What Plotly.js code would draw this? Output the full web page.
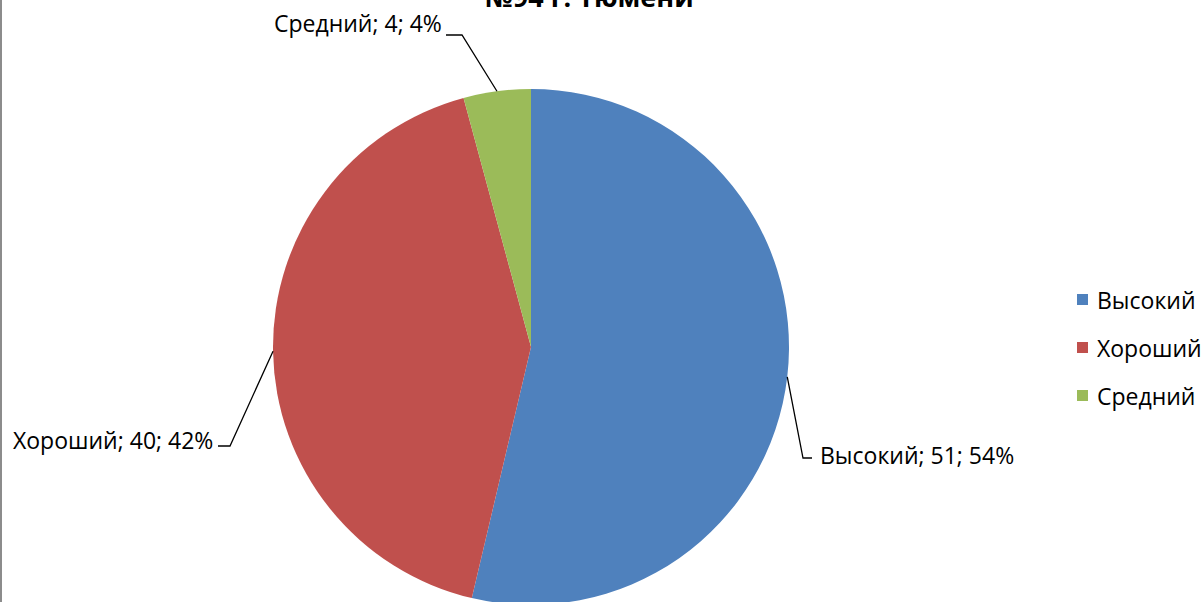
<!DOCTYPE html>
<html>
<head>
<meta charset="utf-8">
<script src="https://cdn.plot.ly/plotly-3.0.1.min.js"></script>
<style>
html,body{margin:0;padding:0;overflow:hidden;background:#fff;}
#chart{width:1203px;height:620px;}
</style>
</head>
<body>
<div id="chart"></div>
<script>
// ---- data ----
const categories = ["Высокий", "Хороший", "Средний"];
const values = [51, 40, 4];
const percents = ["54%", "42%", "4%"];
const colors = ["#4F81BD", "#C0504D", "#9BBB59"];
const titleText = "№94 г. Тюмени";

// ---- layout geometry (pixels) ----
const W = 1203, H = 620;
const cx = 531, cy = 347, R = 258;
const FONT = "'Open Sans', sans-serif";
const FS = 23;
const px = x => x / W;
const py = y => 1 - y / H;

const total = values.reduce((a, b) => a + b, 0);
const anchors = [];
let cum = 0;
values.forEach(v => {
  const mid = (cum + v / 2) / total * 2 * Math.PI;
  anchors.push([cx + R * Math.sin(mid), cy - R * Math.cos(mid)]);
  cum += v;
});

const labelPos = [
  {elbow: [803, 458], end: [812, 458], tx: 818, ty: 455, xanchor: "left"},
  {elbow: [230, 446], end: [218, 446], tx: 215, ty: 440, xanchor: "right"},
  {elbow: [462, 35], end: [446, 35], tx: 444, ty: 23, xanchor: "right"}
];

const shapes = [];
const annotations = [];

shapes.push({type: "line", xref: "paper", yref: "paper", x0: px(1), x1: px(1), y0: 0, y1: 1,
  line: {color: "#8c8c8c", width: 2}});

categories.forEach((c, i) => {
  const a = anchors[i], p = labelPos[i];
  shapes.push({
    type: "path", xref: "paper", yref: "paper",
    path: `M ${px(a[0])} ${py(a[1])} L ${px(p.elbow[0])} ${py(p.elbow[1])} L ${px(p.end[0])} ${py(p.end[1])}`,
    line: {color: "#000", width: 1.3}
  });
  annotations.push({
    xref: "paper", yref: "paper", x: px(p.tx), y: py(p.ty),
    xanchor: p.xanchor, yanchor: "middle", showarrow: false,
    text: `${c}; ${values[i]}; ${percents[i]}`,
    font: {family: FONT, size: FS, color: "#000"}
  });
});

const legendY = [300, 348, 396];
categories.forEach((c, i) => {
  shapes.push({type: "rect", xref: "paper", yref: "paper",
    x0: px(1077), x1: px(1088), y0: py(legendY[i] + 5), y1: py(legendY[i] - 6),
    fillcolor: colors[i], line: {width: 0}});
  annotations.push({xref: "paper", yref: "paper", x: px(1095), y: py(legendY[i]),
    xanchor: "left", yanchor: "middle", showarrow: false, text: c,
    font: {family: FONT, size: FS, color: "#000"}});
});

annotations.push({xref: "paper", yref: "paper", x: px(589), y: py(-3),
  xanchor: "center", yanchor: "middle", showarrow: false,
  text: "<b>" + titleText + "</b>", font: {family: FONT, size: 27, color: "#000"}});

const trace = {
  type: "pie",
  labels: categories,
  values: values,
  marker: {colors: colors, line: {width: 0}},
  sort: false,
  direction: "clockwise",
  rotation: 0,
  textinfo: "none",
  hoverinfo: "label+value+percent",
  domain: {x: [px(cx - R), px(cx + R)], y: [py(cy + R), py(cy - R)]},
  showlegend: false
};

Plotly.newPlot("chart", [trace], {
  width: W, height: H,
  margin: {l: 0, r: 0, t: 0, b: 0},
  paper_bgcolor: "#fff",
  showlegend: false,
  shapes: shapes,
  annotations: annotations
}, {displayModeBar: false, staticPlot: true});
</script>
</body>
</html>
